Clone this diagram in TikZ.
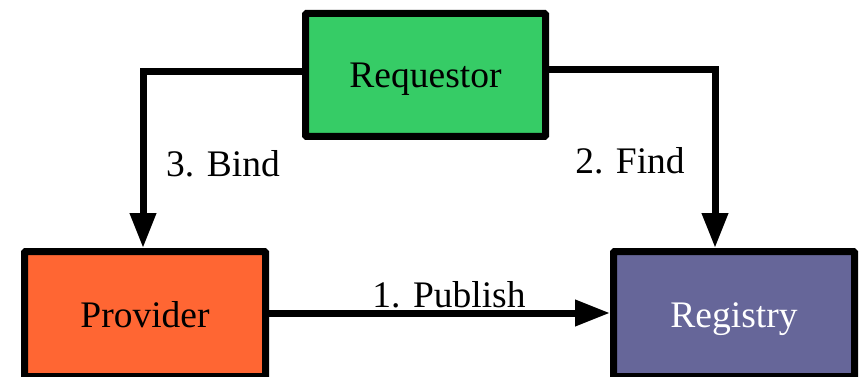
\documentclass[tikz,border=0pt]{standalone}
\usepackage{fontspec}
\setmainfont{Liberation Serif}
\usetikzlibrary{arrows.meta}
\definecolor{reqgreen}{HTML}{36CC66}
\definecolor{provorange}{HTML}{FF6633}
\definecolor{regpurple}{HTML}{666699}
\begin{document}
\begin{tikzpicture}[x=1pt,y=-1pt,
  role/.style={draw=black, line width=7pt, rounded corners=1pt,
    minimum width=241pt, minimum height=124pt, inner sep=0pt,
    text height=26pt, text depth=0pt,
    font=\fontsize{37.5}{45}\selectfont},
  flow/.style={draw=black, line width=7pt,
    -{Triangle[length=35pt,width=25pt]}},
  steplabel/.style={anchor=base, inner sep=0pt,
    font=\fontsize{37.5}{45}\selectfont}]
  \useasboundingbox (0,0) rectangle (859,377);

  % the three roles
  \node[role, fill=reqgreen, minimum width=240pt, minimum height=123pt] (req) at (425.5,75) {Requestor};
  \node[role, fill=provorange, minimum height=125pt] (prov) at (145,314) {Provider};
  \node[role, fill=regpurple, text=white, minimum height=125pt] (reg) at (734,314) {Registry};

  % interactions between them
  \draw[flow] ([yshift=3pt]req.west) -| ([xshift=-2pt]prov.north);
  \draw[flow] ([yshift=5pt]req.east) -| ([xshift=-19pt]reg.north);
  \draw[flow] ([yshift=1pt]prov.east) -- ([yshift=1pt]reg.west);

  % step labels
  \node[steplabel] (bind) at (223,176) {3. Bind};
  \node[steplabel] (find) at (630,173) {2. Find};
  \node[steplabel] (publish) at (449,307) {1. Publish};
\end{tikzpicture}
\end{document}
